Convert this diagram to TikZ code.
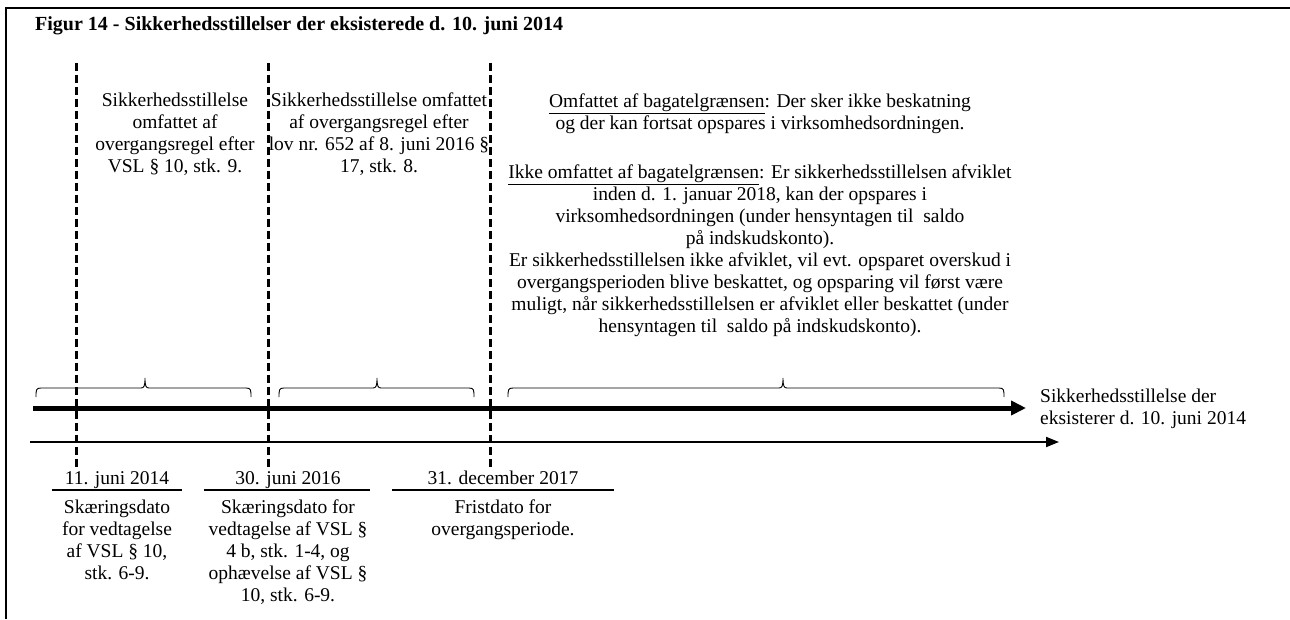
\documentclass[tikz,border=0pt]{standalone}
\usepackage{fontspec}
\setmainfont{Liberation Serif}
\usetikzlibrary{arrows.meta}
\begin{document}
\begin{tikzpicture}[x=1pt,y=-1pt,
  txt/.style={font=\fontsize{19.5}{22}\selectfont, inner sep=0pt, align=center},
  ttl/.style={font=\fontsize{20}{22}\selectfont\bfseries, inner sep=0pt},
  frameline/.style={line width=2.5pt},
  dashline/.style={line width=3pt, dash pattern=on 8pt off 4pt},
  thickarrow/.style={line width=5pt, -{Triangle[length=15pt,width=14pt]}},
  thinarrow/.style={line width=2pt, -{Triangle[length=13pt,width=10pt]}},
  uline/.style={line width=1.5pt},
  bracestyle/.style={line width=0.9pt}]
\useasboundingbox (0,0) rectangle (1290,619);
% frame
\coordinate (fr1) at (1290,8);
\coordinate (fr2) at (6,8);
\coordinate (fr3) at (6,619);
\draw[frameline] (fr1) -- (fr2) -- (fr3);
% title
\node[ttl, anchor=base west] (title) at (35,30) {Figur 14 - Sikkerhedsstillelser der eksisterede d. 10. juni 2014};
% dashed lines
\coordinate (d1t) at (76,63);  \coordinate (d1b) at (76,468);
\coordinate (d2t) at (268,63); \coordinate (d2b) at (268,468);
\coordinate (d3t) at (490,63); \coordinate (d3b) at (490,468);
\draw[dashline] (d1t) -- (d1b);
\draw[dashline] (d2t) -- (d2b);
\draw[dashline] (d3t) -- (d3b);
% top texts
\node[txt, anchor=north] (b1) at (175,93) {Sikkerhedsstillelse\\omfattet af\\overgangsregel efter\\VSL § 10, stk. 9.};
\node[txt, anchor=north] (b2) at (379,93) {Sikkerhedsstillelse omfattet\\af overgangsregel efter\\lov nr. 652 af 8. juni 2016 §\\17, stk. 8.};
\node[txt, anchor=north] (b3) at (760,94) {\underline{Omfattet af bagatelgrænsen}: Der sker ikke beskatning\\
og der kan fortsat opspares i virksomhedsordningen.\\[27pt]
\underline{Ikke omfattet af bagatelgrænsen}: Er sikkerhedsstillelsen afviklet\\
inden d. 1. januar 2018, kan der opspares i\hspace*{8pt}\\
virksomhedsordningen (under hensyntagen til\ \ saldo\hspace*{28pt}\\
på indskudskonto).\hspace*{108pt}\\
Er sikkerhedsstillelsen ikke afviklet, vil evt. opsparet overskud i\\
overgangsperioden blive beskattet, og opsparing vil først være\\
muligt, når sikkerhedsstillelsen er afviklet eller beskattet (under\\
hensyntagen til\ \ saldo på indskudskonto).};
% braces
\newcommand\upbrace[4]{% name, x1, xm, x2
  \coordinate (#1a) at (#2,397);
  \coordinate (#1m) at (#3,378);
  \coordinate (#1b) at (#4,397);
  \draw[bracestyle] (#1a) .. controls (#2,390) and (#2,388) .. (#2+5,388)
    -- (#3-4,388) .. controls (#3-1,388) and (#3,386) .. (#1m)
    .. controls (#3,386) and (#3+1,388) .. (#3+4,388)
    -- (#4-5,388) .. controls (#4,388) and (#4,390) .. (#1b);}
\upbrace{br1}{36}{145}{251}
\upbrace{br2}{279}{377}{474}
\upbrace{br3}{508}{783}{1004}
% arrows
\coordinate (a1s) at (33,408);  \coordinate (a1e) at (1026,408);
\coordinate (a2s) at (30,442);  \coordinate (a2e) at (1059,442);
\draw[thickarrow] (a1s) -- (a1e);
\draw[thinarrow] (a2s) -- (a2e);
\node[txt, align=left, anchor=north west] (lab) at (1040,389) {Sikkerhedsstillelse der\\eksisterer d. 10. juni 2014};
% dates
\node[txt, anchor=north] (t1) at (117,471) {11. juni 2014};
\node[txt, anchor=north] (t2) at (288,471) {30. juni 2016};
\node[txt, anchor=north] (t3) at (503,471) {31. december 2017};
\coordinate (u1a) at (52,490);  \coordinate (u1b) at (182,490);
\coordinate (u2a) at (204,490); \coordinate (u2b) at (370,490);
\coordinate (u3a) at (392,490); \coordinate (u3b) at (614,490);
\draw[uline] (u1a) -- (u1b);
\draw[uline] (u2a) -- (u2b);
\draw[uline] (u3a) -- (u3b);
\node[txt, anchor=north] (s1) at (117,500) {Skæringsdato\\for vedtagelse\\af VSL § 10,\\stk. 6-9.};
\node[txt, anchor=north] (s2) at (288,500) {Skæringsdato for\\vedtagelse af VSL §\\4 b, stk. 1-4, og\\ophævelse af VSL §\\10, stk. 6-9.};
\node[txt, anchor=north] (s3) at (503,500) {Fristdato for\\overgangsperiode.};
\end{tikzpicture}
\end{document}
